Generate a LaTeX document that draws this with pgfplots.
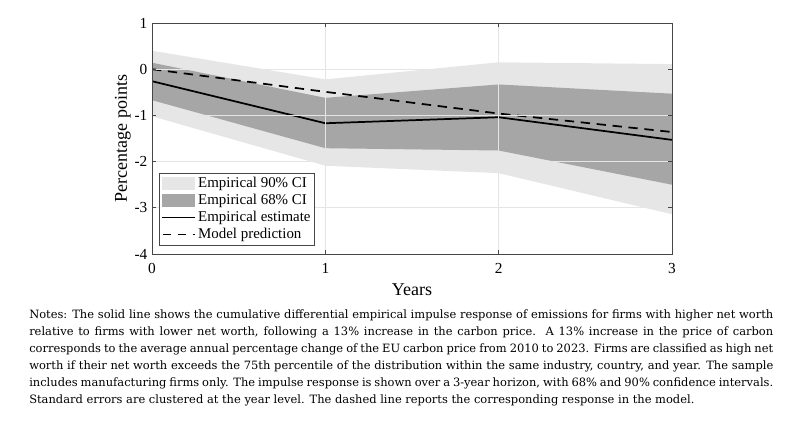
\documentclass[border=0pt]{standalone}
\usepackage{fontspec}
\setmainfont{Liberation Serif}
\newfontfamily\notesfont{DejaVu Serif}
\usepackage{pgfplots}
\pgfplotsset{compat=1.18}
\definecolor{ci90}{RGB}{230,230,230}
\definecolor{ci68}{RGB}{166,166,166}
\definecolor{axcol}{RGB}{70,70,70}
\begin{document}
\begin{tikzpicture}[x=0.75pt,y=-0.75pt]
\useasboundingbox (0,0) rectangle (799,427);
\begin{axis}[
  at={(114pt,-190.5pt)}, anchor=south west,
  width=390pt, height=173.25pt, scale only axis,
  xmin=0, xmax=3, ymin=-4, ymax=1,
  xtick={0,1,2,3}, ytick={-4,-3,-2,-1,0,1},
  xticklabels={\hbox{0},\hbox{1},\hbox{2},\hbox{3}},
  yticklabels={\hbox{-4},\hbox{-3},\hbox{-2},\hbox{-1},\hbox{0},\hbox{1}},
  tick align=inside, major tick length=3pt,
  xtick pos=both, ytick pos=both,
  grid=major, grid style={black!10, line width=0.5pt},
  axis line style={axcol, line width=0.6pt},
  tick style={axcol, line width=0.5pt},
  axis on top,
  ticklabel style={font=\fontsize{11.5}{13}\selectfont},
  xticklabel style={yshift=-3.5pt},
  yticklabel style={xshift=0pt},
  xlabel={Years}, ylabel={Percentage points},
  label style={font=\fontsize{13.5}{15}\selectfont},
  xlabel style={yshift=-1pt},
  ylabel style={yshift=-4pt},
  legend style={at={(0.0135,0.038)}, anchor=south west, draw=axcol, line width=0.5pt,
    font=\fontsize{11.2}{12.75}\selectfont, inner sep=1.2pt, row sep=-0.6pt,
    fill=white, cells={anchor=west}, nodes={inner xsep=1.5pt, inner ysep=2pt}},
  legend cell align=left,
]
\addplot[fill=ci90, draw=none,
  legend image code/.code={\fill[ci90] (0pt,-5pt) rectangle (25pt,5pt);}] coordinates {
 (0,0.40) (1,-0.22) (2,0.15) (3,0.11)
 (3,-3.14) (2,-2.25) (1,-2.09) (0,-1.02)} -- cycle;
\addlegendentry{Empirical 90\% CI}
\addplot[fill=ci68, draw=none,
  legend image code/.code={\fill[ci68] (0pt,-5pt) rectangle (25pt,5pt);}] coordinates {
 (0,0.14) (1,-0.62) (2,-0.33) (3,-0.53)
 (3,-2.50) (2,-1.76) (1,-1.71) (0,-0.67)} -- cycle;
\addlegendentry{Empirical 68\% CI}
\addplot[black, line width=1.3pt, no marks,
  legend image code/.code={\draw[black, line width=1.4pt] (0pt,0pt) -- (25pt,0pt);}] coordinates {
 (0,-0.26) (1,-1.17) (2,-1.04) (3,-1.53)};
\addlegendentry{Empirical estimate}
\addplot[black, line width=1.3pt, no marks, dash pattern=on 7pt off 5pt,
  legend image code/.code={\draw[black, line width=1.4pt, dash pattern=on 6pt off 5pt] (1pt,0pt) -- (25pt,0pt);}] coordinates {
 (0,0) (1,-0.49) (2,-0.96) (3,-1.36)};
\addlegendentry{Model prediction}
\addplot[black!55, line width=0.5pt, dash pattern=on 3pt off 2pt, forget plot] coordinates {
 (0,0) (3,0)};
\end{axis}
\node[anchor=north west, inner sep=0pt, text width=558pt, align=justify,
  font=\notesfont\fontsize{8.6}{12.75}\selectfont] at (29,310) {%
\hyphenpenalty=10000 \exhyphenpenalty=10000
Notes: The solid line shows the cumulative differential empirical impulse response of emissions for firms with higher net worth\linebreak
relative to firms with lower net worth, following a 13\% increase in the carbon price.\ \ A 13\% increase in the price of carbon\linebreak
corresponds to the average annual percentage change of the EU carbon price from 2010 to 2023. Firms are classified as high net\linebreak
worth if their net worth exceeds the 75th percentile of the distribution within the same industry, country, and year. The sample\linebreak
includes manufacturing firms only. The impulse response is shown over a 3-year horizon, with 68\% and 90\% confidence intervals.\linebreak
Standard errors are clustered at the year level. The dashed line reports the corresponding response in the model.};
\end{tikzpicture}
\end{document}
